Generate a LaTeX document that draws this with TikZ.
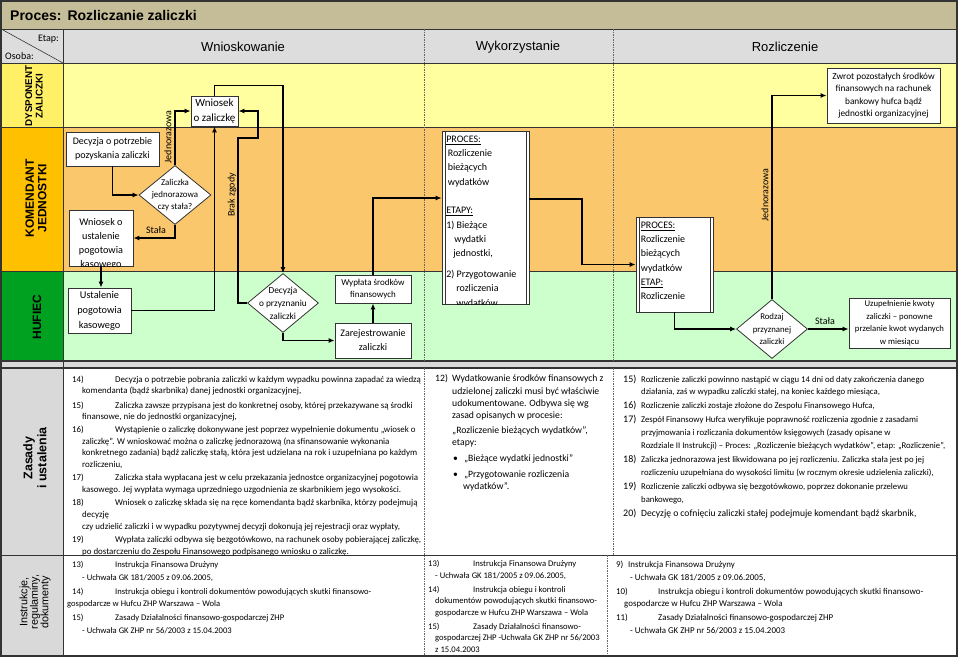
\documentclass[tikz,border=0pt]{standalone}
\usepackage{fontspec}
\setmainfont{Carlito}
\newfontfamily\arialf{Liberation Sans}
\usepackage{xcolor}
\usepackage{tikz}
\usetikzlibrary{shapes,arrows,positioning,calc,arrows.meta}

\definecolor{titlebg}{HTML}{C4BD97}
\definecolor{headbg}{HTML}{DDDDDD}
\definecolor{dyslab}{HTML}{FFF066}
\definecolor{dysbg}{HTML}{FFFF9F}
\definecolor{komlab}{HTML}{FFC000}
\definecolor{kombg}{HTML}{FAC76C}
\definecolor{huflab}{HTML}{00A020}
\definecolor{hufbg}{HTML}{CCFFCC}
\definecolor{rulebg}{HTML}{D9D9D9}
\definecolor{edge}{HTML}{333333}

\tikzset{
  box/.style={draw=edge, fill=white, line width=0.8pt, inner sep=0pt, align=center},
  decision/.style={diamond, draw=edge, fill=white, line width=0.8pt, inner sep=0pt},
  dtext/.style={align=center, inner sep=0pt},
  flow/.style={line width=1.2pt, -{Latex[length=6pt,width=5pt]}},
  lanesep/.style={line width=0.8pt, draw=edge},
  colsep/.style={line width=0.5pt, draw=black!60, dash pattern=on 1.5pt off 1pt},
  lanelab/.style={rotate=90, align=center},
  lbl/.style={inner sep=0pt, font=\fontsize{10}{12}\selectfont},
  ruletext/.style={align=left, inner sep=0pt, anchor=north west}
}

\begin{document}
\begin{tikzpicture}[x=1pt,y=-1pt]
    \useasboundingbox (0,0) rectangle (960,657);

    % Backgrounds
    \fill[titlebg] (0,0) rectangle (958,29);
    \fill[headbg] (0,29) rectangle (958,63);
    \fill[dyslab] (0,63) rectangle (63,127.5);
    \fill[dysbg] (63,63) rectangle (958,127.5);
    \fill[komlab] (0,127.5) rectangle (63,271.5);
    \fill[kombg] (63,127.5) rectangle (958,271.5);
    \fill[huflab] (0,271.5) rectangle (63,361);
    \fill[hufbg] (63,271.5) rectangle (958,361);
    \fill[rulebg] (0,361) rectangle (958,368);
    \fill[rulebg] (0,368) rectangle (63,656);

    % Grid lines
    \foreach \y in {29,63,127.5,271.5,555}
    {
        \draw[lanesep] (0,\y) -- (958,\y);
    }
    \draw[lanesep, line width=1.4pt] (0,361) -- (958,361);
    \draw[lanesep, line width=1.4pt] (0,368) -- (958,368);
    \draw[lanesep] (63,29) -- (63,656);
    \draw[lanesep, line width=0.6pt] (3,30) -- (63,63);
    \foreach \x in {424,613}
    {
        \draw[colsep] (\x,29) -- (\x,361);
    }
    \draw[colsep] (424,368) -- (424,656);
    \draw[colsep] (613,368) -- (613,555);
    \draw[colsep] (607,555) -- (607,656);
    \draw[edge, line width=2pt] (1,1) rectangle (957,656);

    % Title and headers
    \node[anchor=west, inner sep=0pt, font=\arialf\bfseries\fontsize{14}{16}\selectfont] (title) at (10,15) {Proces:\hspace{6pt}Rozliczanie zaliczki};
    \node[anchor=east, inner sep=0pt, font=\fontsize{10}{12}\selectfont] (etap) at (59,39) {Etap:};
    \node[anchor=west, inner sep=0pt, font=\fontsize{10}{12}\selectfont] (osoba) at (5,56) {Osoba:};
    \node[font=\arialf\fontsize{13}{15}\selectfont] (hwn) at (243,47) {Wnioskowanie};
    \node[font=\arialf\fontsize{13}{15}\selectfont] (hwy) at (518,47) {Wykorzystanie};
    \node[font=\arialf\fontsize{13}{15}\selectfont] (hro) at (785,47) {Rozliczenie};

    % Lane labels
    \node[lanelab, font=\arialf\bfseries\fontsize{9.8}{10.5}\selectfont] (dyslabel) at (34,96) {DYSPONENT\\ZALICZKI};
    \node[lanelab, font=\arialf\bfseries\fontsize{12}{12.5}\selectfont] (komlabel) at (36,198) {KOMENDANT\\JEDNOSTKI};
    \node[lanelab, font=\arialf\bfseries\fontsize{12}{13}\selectfont] (huflabel) at (37,317) {HUFIEC};
    \node[lanelab, font=\arialf\bfseries\fontsize{12.5}{14}\selectfont] (zaslabel) at (35,458) {Zasady\\i ustalenia};
    \node[lanelab, font=\arialf\fontsize{10.8}{10.5}\selectfont] (inslabel) at (35,602) {Instrukcje,\\regulaminy,\\dokumenty};

    % Wnioskowanie
    \node[box, minimum width=47pt, minimum height=30pt, font=\fontsize{11}{15}\selectfont] (wnzal) at (214.5,111) {Wniosek\\o zaliczkę};
    \node[box, minimum width=93pt, minimum height=34pt, font=\fontsize{10}{13.5}\selectfont] (dec) at (112.5,149) {Decyzja o potrzebie\\pozyskania zaliczki};
    \node[decision, minimum width=72pt, minimum height=59pt] (zal) at (175,195) {};
    \node[dtext, font=\fontsize{8.9}{12}\selectfont] (zaltxt) at (zal) {Zaliczka\\jednorazowa\\czy stała?};
    \node[box, minimum width=64pt, minimum height=56pt] (wnpog) at (101,238) {};
    \begin{scope}
        \clip (wnpog.south west) rectangle (wnpog.north east);
        \node[dtext, anchor=north, font=\fontsize{10.2}{14}\selectfont] (wnpogtxt) at ([yshift=-8.5pt]wnpog.north) {Wniosek o\\ustalenie\\pogotowia\\kasowego};
    \end{scope}
    \node[box, minimum width=63pt, minimum height=45pt, font=\fontsize{10.3}{15}\selectfont] (ustal) at (99.5,310.5) {Ustalenie\\pogotowia\\kasowego};
    \node[decision, minimum width=71pt, minimum height=59pt] (przyz) at (283,303) {};
    \node[dtext, font=\fontsize{9.3}{13}\selectfont] (przyztxt) at (przyz) {Decyzja\\o przyznaniu\\zaliczki};
    \node[box, minimum width=76pt, minimum height=28pt, font=\fontsize{9}{12}\selectfont] (wypl) at (373,289) {Wypłata środków\\finansowych};
    \node[box, minimum width=76pt, minimum height=35pt, font=\fontsize{10}{14}\selectfont] (zarej) at (373,340.5) {Zarejestrowanie\\zaliczki};

    % Wykorzystanie / Rozliczenie
    \node[box, minimum width=87pt, minimum height=173pt] (proc1) at (485.5,217.5) {};
    \begin{scope}
        \clip (proc1.south west) rectangle (proc1.north east);
        \node[ruletext, font=\fontsize{10}{14.3}\selectfont] (proc1txt) at ([xshift=4.5pt,yshift=-5pt]proc1.north west) {\underline{PROCES:}\\
            \hspace*{1.5pt}Rozliczenie\\
            \hspace*{1.5pt}bieżących\\
            \hspace*{1.5pt}wydatków\\[14.3pt]
            \underline{ETAPY:}\\
            1) Bieżące\\
            \hspace*{8pt}wydatki\\
            \hspace*{7pt}jednostki,\\[6.5pt]
            2) Przygotowanie\\
            \hspace*{10pt}rozliczenia\\
            \hspace*{10pt}wydatków};
    \end{scope}
    \node[box, minimum width=77pt, minimum height=95pt] (proc2) at (674.5,264.5) {};
    \node[ruletext, font=\fontsize{10}{14.3}\selectfont] (proc2txt) at ([xshift=5pt,yshift=-5pt]proc2.north west) {\underline{PROCES:}\\
        Rozliczenie\\
        bieżących\\
        wydatków\\
        \underline{ETAP:}\\
        Rozliczenie};
    \foreach \p in {proc1,proc2}
    {
        \draw[edge, line width=0.8pt] ([xshift=3.5pt]\p.north west) -- ([xshift=3.5pt]\p.south west);
        \draw[edge, line width=0.8pt] ([xshift=-3.5pt]\p.north east) -- ([xshift=-3.5pt]\p.south east);
    }
    \node[decision, minimum width=71pt, minimum height=59pt] (rodz) at (772,329) {};
    \node[dtext, font=\fontsize{8.8}{12.5}\selectfont] (rodztxt) at (rodz) {Rodzaj\\przyznanej\\zaliczki};
    \node[box, minimum width=101pt, minimum height=50pt, font=\fontsize{8.7}{12.5}\selectfont] (uzup) at (899.5,323) {Uzupełnienie kwoty\\zaliczki – ponowne\\przelanie kwot wydanych\\w miesiącu};
    \node[box, minimum width=113pt, minimum height=55pt, font=\fontsize{9.3}{12.5}\selectfont] (zwrot) at (883.5,95.5) {Zwrot pozostałych środków\\finansowych na rachunek\\bankowy hufca bądź\\jednostki organizacyjnej};

    % Connectors
    \coordinate (bz1) at (238,138);
    \coordinate (bz2) at (258,111);
    \coordinate (mid2) at (582,230);
    \draw[flow] (dec.south) |- (zal.west);
    \draw[flow] (zal.south) |- (wnpog.east);
    \draw[flow] (zal.north) |- (wnzal.west);
    \draw[flow] (wnpog.south) -- (wnpog.south |- ustal.north);
    \draw[flow] (ustal.east) -| (wnzal.south);
    \draw[flow] (wnzal.north) -- ++(0,-10) -| (przyz.north);
    \draw[flow] (przyz.west) -| (bz1) -| (bz2) -- (wnzal.east);
    \draw[flow] (przyz.south) |- (zarej.west);
    \draw[flow] (zarej.north) -- (wypl.south);
    \draw[flow] (wypl.north) |- ([yshift=19.5pt]proc1.west);
    \draw[flow] ([yshift=18.5pt]proc1.east) -| (mid2) |- (proc2.west);
    \draw[flow] (proc2.south) |- (rodz.west);
    \draw[flow] (rodz.east) -- (rodz.east -| uzup.west);
    \draw[flow] (rodz.north) |- (zwrot.west);

    % Connector labels
    \node[lbl] (lstala1) at (156,230) {Stała};
    \node[lbl, rotate=90] (ljedn1) at (168,137) {Jednorazowa};
    \node[lbl, rotate=90] (lbrak) at (232,195) {Brak zgody};
    \node[lbl, rotate=90] (ljedn2) at (765,195) {Jednorazowa};
    \node[lbl] (lstala2) at (825,321) {Stała};

    % Zasady i ustalenia
    \node[ruletext, font=\fontsize{8.9}{11.7}\selectfont] (zasL) at (72,375.5) {%
        \makebox[43pt][l]{14)}Decyzja o potrzebie pobrania zaliczki w każdym wypadku powinna zapadać za wiedzą\\
        \hspace*{10pt}komendanta (bądź skarbnika) danej jednostki organizacyjnej,\\[2.5pt]
        \makebox[43pt][l]{15)}Zaliczka zawsze przypisana jest do konkretnej osoby, której przekazywane są środki\\
        \hspace*{10pt}finansowe, nie do jednostki organizacyjnej,\\[1pt]
        \makebox[43pt][l]{16)}Wystąpienie o zaliczkę dokonywane jest poprzez wypełnienie dokumentu „wiosek o\\
        \hspace*{10pt}zaliczkę”. W wnioskować można o zaliczkę jednorazową (na sfinansowanie wykonania\\
        \hspace*{10pt}konkretnego zadania) bądź zaliczkę stałą, która jest udzielana na rok i uzupełniana po każdym\\
        \hspace*{10pt}rozliczeniu,\\[1.5pt]
        \makebox[43pt][l]{17)}Zaliczka stała wypłacana jest w celu przekazania jednostce organizacyjnej pogotowia\\
        \hspace*{10pt}kasowego. Jej wypłata wymaga uprzedniego uzgodnienia ze skarbnikiem jego wysokości.\\[1.5pt]
        \makebox[43pt][l]{18)}Wniosek o zaliczkę składa się na ręce komendanta bądź skarbnika, którzy podejmują\\
        \hspace*{10pt}decyzję\\
        \hspace*{10pt}czy udzielić zaliczki i w wypadku pozytywnej decyzji dokonują jej rejestracji oraz wypłaty,\\[2pt]
        \makebox[43pt][l]{19)}Wypłata zaliczki odbywa się bezgotówkowo, na rachunek osoby pobierającej zaliczkę,\\
        \hspace*{10pt}po dostarczeniu do Zespołu Finansowego podpisanego wniosku o zaliczkę.};
    \node[ruletext, font=\fontsize{9.7}{12.3}\selectfont] (zasM) at (435,374.5) {%
        \makebox[17pt][l]{12)}Wydatkowanie środków finansowych z\\
        \hspace*{17pt}udzielonej zaliczki musi być właściwie\\
        \hspace*{17pt}udokumentowane. Odbywa się wg\\
        \hspace*{17pt}zasad opisanych w procesie:\\[2.5pt]
        \hspace*{17pt}„Rozliczenie bieżących wydatków”,\\
        \hspace*{17pt}etapy:\\[3.5pt]
        \hspace*{18pt}\textbullet\hspace{6pt}„Bieżące wydatki jednostki”\\[3.5pt]
        \hspace*{18pt}\textbullet\hspace{6pt}„Przygotowanie rozliczenia\\
        \hspace*{28pt}wydatków”.};
    \node[ruletext, font=\fontsize{8.7}{12.8}\selectfont] (zasR) at (623,374.5) {%
        \makebox[18pt][l]{\fontsize{10}{12}\selectfont 15)}Rozliczenie zaliczki powinno nastąpić w ciągu 14 dni od daty zakończenia danego\\
        \hspace*{18pt}działania, zaś w wypadku zaliczki stałej, na koniec każdego miesiąca,\\[1pt]
        \makebox[18pt][l]{\fontsize{10}{12}\selectfont 16)}Rozliczenie zaliczki zostaje złożone do Zespołu Finansowego Hufca,\\[1pt]
        \makebox[18pt][l]{\fontsize{10}{12}\selectfont 17)}Zespół Finansowy Hufca weryfikuje poprawność rozliczenia zgodnie z zasadami\\
        \hspace*{18pt}przyjmowania i rozliczania dokumentów księgowych (zasady opisane w\\
        \hspace*{18pt}Rozdziale II Instrukcji) – Proces: „Rozliczenie bieżących wydatków”, etap: „Rozliczenie”,\\[2pt]
        \makebox[18pt][l]{\fontsize{10}{12}\selectfont 18)}Zaliczka jednorazowa jest likwidowana po jej rozliczeniu. Zaliczka stała jest po jej\\
        \hspace*{18pt}rozliczeniu uzupełniana do wysokości limitu (w rocznym okresie udzielenia zaliczki),\\[1pt]
        \makebox[18pt][l]{\fontsize{10}{12}\selectfont 19)}Rozliczenie zaliczki odbywa się bezgotówkowo, poprzez dokonanie przelewu\\
        \hspace*{18pt}bankowego,\\[1pt]
        \makebox[18pt][l]{\fontsize{10}{12}\selectfont 20)}{\fontsize{9.6}{12}\selectfont Decyzję o cofnięciu zaliczki stałej podejmuje komendant bądź skarbnik,}};

    % Instrukcje, regulaminy, dokumenty
    \node[ruletext, font=\fontsize{8.6}{12.5}\selectfont] (insL) at (72,561) {%
        \makebox[43pt][l]{13)}Instrukcja Finansowa Drużyny\\
        \hspace*{10pt}- Uchwała GK 181/2005 z 09.06.2005,\\[1.5pt]
        \makebox[43pt][l]{14)}Instrukcja obiegu i kontroli dokumentów powodujących skutki finansowo-\\
        \hspace*{-5pt}gospodarcze w Hufcu ZHP Warszawa – Wola\\[1.5pt]
        \makebox[43pt][l]{15)}Zasady Działalności finansowo-gospodarczej ZHP\\
        \hspace*{10pt}- Uchwała GK ZHP nr 56/2003 z 15.04.2003};
    \node[ruletext, font=\fontsize{8.6}{11.5}\selectfont] (insM) at (428,560) {%
        \makebox[45pt][l]{13)}Instrukcja Finansowa Drużyny\\
        \hspace*{7pt}- Uchwała GK 181/2005 z 09.06.2005,\\[2.5pt]
        \makebox[45pt][l]{14)}Instrukcja obiegu i kontroli\\
        \hspace*{7pt}dokumentów powodujących skutki finansowo-\\
        \hspace*{7pt}gospodarcze w Hufcu ZHP Warszawa – Wola\\[2.5pt]
        \makebox[45pt][l]{15)}Zasady Działalności finansowo-\\
        \hspace*{7pt}gospodarczej ZHP -Uchwała GK ZHP nr 56/2003\\
        \hspace*{7pt}z 15.04.2003};
    \node[ruletext, font=\fontsize{8.9}{12.5}\selectfont] (insR) at (616,561) {%
        \makebox[12pt][l]{9)}Instrukcja Finansowa Drużyny\\
        \hspace*{14pt}- Uchwała GK 181/2005 z 09.06.2005,\\[1.5pt]
        \makebox[42pt][l]{10)}Instrukcja obiegu i kontroli dokumentów powodujących skutki finansowo-\\
        \hspace*{8pt}gospodarcze w Hufcu ZHP Warszawa – Wola\\[1.5pt]
        \makebox[42pt][l]{11)}Zasady Działalności finansowo-gospodarczej ZHP\\
        \hspace*{14pt}- Uchwała GK ZHP nr 56/2003 z 15.04.2003};
\end{tikzpicture}
\end{document}
